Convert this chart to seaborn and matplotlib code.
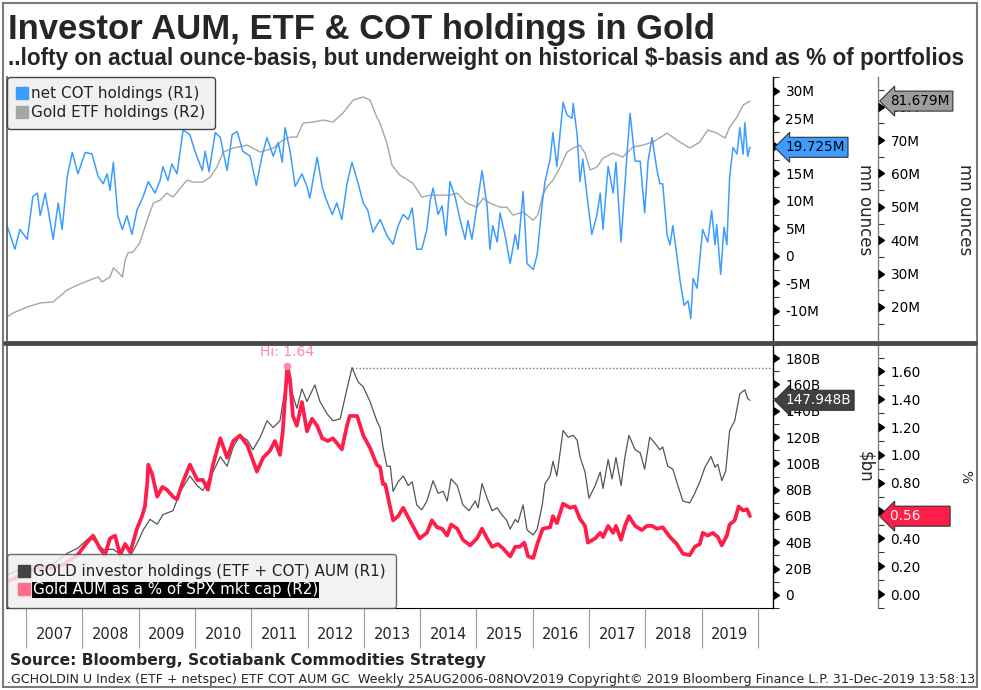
import numpy as np
import pandas as pd
import matplotlib.pyplot as plt
import seaborn as sns
from matplotlib.lines import Line2D
from matplotlib.patches import Rectangle

# ----------------------------------------------------------------------
# Data (decimal years)
# ----------------------------------------------------------------------
# net COT holdings, mn oz (R1, top panel)
cot_dates = [2006.66, 2006.80, 2006.89, 2007.02, 2007.12, 2007.20, 2007.25, 2007.34, 2007.43, 2007.48,
             2007.57, 2007.64, 2007.73, 2007.82, 2007.92, 2008.05, 2008.17, 2008.28, 2008.37, 2008.44,
             2008.49, 2008.55, 2008.63, 2008.71, 2008.79, 2008.88, 2008.97, 2009.08, 2009.17, 2009.29,
             2009.38, 2009.43, 2009.52, 2009.59, 2009.68, 2009.79, 2009.91, 2010.00, 2010.13, 2010.18,
             2010.25, 2010.36, 2010.45, 2010.57, 2010.66, 2010.75, 2010.85, 2010.98, 2011.09, 2011.19,
             2011.28, 2011.39, 2011.48, 2011.55, 2011.60, 2011.69, 2011.78, 2011.90, 2011.99, 2012.04,
             2012.17, 2012.26, 2012.31, 2012.44, 2012.52, 2012.61, 2012.70, 2012.79, 2012.90, 2012.99,
             2013.07, 2013.16, 2013.29, 2013.41, 2013.52, 2013.61, 2013.70, 2013.79, 2013.86, 2013.94,
             2014.03, 2014.12, 2014.18, 2014.23, 2014.32, 2014.39, 2014.46, 2014.53, 2014.62, 2014.71,
             2014.80, 2014.85, 2014.92, 2015.01, 2015.10, 2015.19, 2015.24, 2015.29, 2015.37, 2015.42,
             2015.51, 2015.60, 2015.69, 2015.74, 2015.83, 2015.90, 2016.01, 2016.08, 2016.17, 2016.22,
             2016.31, 2016.36, 2016.43, 2016.54, 2016.61, 2016.70, 2016.72, 2016.79, 2016.84, 2016.89,
             2016.96, 2017.05, 2017.14, 2017.20, 2017.25, 2017.34, 2017.43, 2017.48, 2017.57, 2017.68,
             2017.73, 2017.82, 2017.91, 2017.99, 2018.05, 2018.12, 2018.21, 2018.26, 2018.31, 2018.39,
             2018.44, 2018.49, 2018.56, 2018.62, 2018.69, 2018.76, 2018.81, 2018.85, 2018.92, 2018.97,
             2019.02, 2019.11, 2019.18, 2019.24, 2019.27, 2019.34, 2019.40, 2019.45, 2019.50, 2019.56,
             2019.63, 2019.68, 2019.74, 2019.77, 2019.82, 2019.86]
cot_vals = [5.5, 1.2, 4.8, 3.0, 10.8, 11.4, 7.3, 11.4, 6.0, 3.0,
            9.6, 4.8, 14.4, 18.8, 14.9, 18.8, 18.5, 14.4, 13.1, 14.9,
            11.9, 17.0, 7.3, 4.8, 7.3, 3.9, 8.3, 10.8, 13.5, 11.4,
            13.7, 16.2, 13.7, 16.7, 14.9, 22.9, 22.0, 19.0, 15.5, 19.0,
            15.3, 22.4, 21.5, 15.5, 22.0, 22.6, 19.0, 18.1, 12.8, 18.1,
            21.5, 18.1, 20.6, 17.0, 23.3, 19.0, 12.6, 14.9, 12.6, 10.5,
            17.9, 12.6, 10.8, 7.5, 9.6, 6.6, 13.1, 17.0, 13.1, 9.6,
            8.3, 4.3, 6.6, 3.7, 2.1, 5.5, 7.5, 6.6, 8.7, 1.2,
            1.2, 4.8, 10.1, 12.3, 7.5, 9.1, 3.7, 13.5, 10.8, 6.6,
            3.0, 6.4, 3.0, 9.1, 15.5, 9.1, 1.2, 5.5, 2.5, 7.8,
            3.7, -1.4, 3.9, 1.2, 11.7, -1.4, -2.5, 0.2, 9.6, 13.5,
            17.6, 22.4, 16.2, 27.9, 25.6, 25.0, 27.7, 22.0, 13.5, 17.6,
            11.4, 3.9, 7.3, 11.4, 4.8, 16.3, 11.4, 17.0, 2.5, 19.0,
            25.9, 17.2, 17.2, 7.8, 17.2, 21.5, 15.5, 13.1, 13.1, 3.7,
            2.0, 5.5, 0.2, -4.6, -9.0, -8.2, -11.4, -4.1, -5.9, -0.5,
            4.8, 2.5, 8.2, 2.0, 5.7, -3.4, 5.2, 2.0, 14.4, 19.7,
            18.5, 23.3, 18.5, 24.2, 18.1, 19.725]

# Gold ETF holdings, mn oz (R2, top panel)
etf_dates = [2006.66, 2006.77, 2007.02, 2007.25, 2007.48, 2007.73, 2007.96, 2008.14, 2008.28, 2008.35,
             2008.49, 2008.55, 2008.63, 2008.71, 2008.76, 2008.81, 2008.90, 2009.02, 2009.15, 2009.26,
             2009.38, 2009.50, 2009.61, 2009.74, 2009.86, 2009.97, 2010.14, 2010.27, 2010.39, 2010.50,
             2010.68, 2010.93, 2011.16, 2011.39, 2011.56, 2011.69, 2011.81, 2011.92, 2012.10, 2012.28,
             2012.45, 2012.63, 2012.81, 2012.99, 2013.11, 2013.23, 2013.29, 2013.41, 2013.50, 2013.64,
             2013.87, 2014.03, 2014.18, 2014.35, 2014.53, 2014.66, 2014.83, 2015.01, 2015.12, 2015.24,
             2015.42, 2015.54, 2015.65, 2015.83, 2016.01, 2016.09, 2016.18, 2016.25, 2016.36, 2016.48,
             2016.61, 2016.72, 2016.84, 2016.93, 2017.02, 2017.14, 2017.25, 2017.43, 2017.60, 2017.78,
             2017.96, 2018.14, 2018.39, 2018.56, 2018.79, 2018.97, 2019.11, 2019.27, 2019.42, 2019.50,
             2019.63, 2019.74, 2019.86]
etf_vals = [17.0, 18.2, 20.0, 21.2, 21.5, 25.1, 26.9, 28.1, 29.0, 27.5,
            29.0, 31.7, 30.5, 29.0, 34.1, 36.2, 36.5, 39.2, 46.0, 51.1,
            52.0, 54.1, 52.9, 55.6, 58.0, 57.4, 57.4, 58.9, 61.9, 66.4,
            67.6, 68.5, 66.4, 67.6, 70.0, 70.9, 70.9, 75.1, 75.4, 76.0,
            75.4, 78.1, 82.0, 82.9, 82.0, 76.9, 75.0, 69.0, 62.5, 59.5,
            57.1, 52.9, 53.5, 53.5, 53.5, 54.1, 51.1, 49.9, 52.6, 51.1,
            49.9, 49.9, 47.5, 48.4, 46.0, 47.5, 53.5, 55.9, 58.0, 61.6,
            66.4, 67.6, 68.5, 66.1, 61.0, 61.9, 64.6, 66.1, 64.9, 67.9,
            68.5, 69.4, 72.1, 70.0, 67.6, 69.4, 73.0, 72.1, 70.6, 73.9,
            76.9, 80.5, 81.679]

# GOLD investor holdings (ETF + COT) AUM, $bn (R1, lower panel)
aum_dates = [2006.66, 2006.89, 2007.12, 2007.43, 2007.73, 2007.91, 2008.14, 2008.26, 2008.37, 2008.55,
             2008.67, 2008.85, 2008.97, 2009.08, 2009.20, 2009.33, 2009.43, 2009.61, 2009.74, 2009.91,
             2010.04, 2010.14, 2010.32, 2010.45, 2010.57, 2010.68, 2010.80, 2010.93, 2011.03, 2011.16,
             2011.28, 2011.39, 2011.51, 2011.64, 2011.72, 2011.81, 2011.90, 2011.99, 2012.13, 2012.22,
             2012.35, 2012.45, 2012.58, 2012.70, 2012.79, 2012.90, 2012.99, 2013.11, 2013.23, 2013.29,
             2013.34, 2013.41, 2013.47, 2013.52, 2013.61, 2013.70, 2013.79, 2013.86, 2013.94, 2014.03,
             2014.12, 2014.23, 2014.32, 2014.41, 2014.48, 2014.55, 2014.66, 2014.76, 2014.87, 2014.98,
             2015.03, 2015.10, 2015.19, 2015.28, 2015.37, 2015.45, 2015.54, 2015.60, 2015.69, 2015.74,
             2015.83, 2015.90, 2016.01, 2016.08, 2016.17, 2016.22, 2016.31, 2016.36, 2016.43, 2016.54,
             2016.63, 2016.72, 2016.79, 2016.84, 2016.93, 2017.00, 2017.11, 2017.20, 2017.25, 2017.34,
             2017.41, 2017.48, 2017.57, 2017.64, 2017.71, 2017.82, 2017.91, 2017.99, 2018.08, 2018.17,
             2018.26, 2018.31, 2018.40, 2018.49, 2018.58, 2018.67, 2018.79, 2018.88, 2018.97, 2019.06,
             2019.17, 2019.24, 2019.29, 2019.36, 2019.43, 2019.50, 2019.59, 2019.68, 2019.77, 2019.82,
             2019.86]
aum_vals = [14.7, 19.9, 22.0, 22.0, 31.6, 35.3, 44.1, 39.0, 34.6, 34.6,
            30.9, 29.4, 39.0, 49.3, 57.4, 53.7, 61.0, 64.0, 78.7, 90.4,
            83.1, 79.4, 93.4, 105.1, 97.8, 112.5, 121.3, 117.6, 110.3, 119.9,
            132.4, 127.2, 132.4, 167.0, 154.4, 141.9, 156.6, 147.0, 159.6, 147.0,
            137.5, 132.4, 133.8, 156.6, 172.8, 161.8, 158.1, 147.0, 132.4, 127.0,
            112.5, 97.8, 97.8, 78.7, 86.0, 90.4, 83.1, 86.0, 68.4, 64.7,
            71.3, 86.8, 77.2, 78.7, 71.3, 88.2, 83.1, 68.4, 64.0, 71.3,
            66.2, 84.6, 73.5, 64.0, 66.2, 61.0, 56.6, 50.0, 57.4, 55.1,
            68.4, 49.3, 45.6, 50.0, 68.4, 84.6, 90.4, 101.5, 90.4, 125.0,
            119.9, 121.3, 117.6, 105.1, 93.4, 73.5, 83.1, 93.4, 80.9, 102.9,
            88.2, 104.4, 83.1, 105.1, 121.3, 110.3, 108.0, 95.6, 119.9, 115.4,
            110.3, 112.5, 97.8, 95.6, 83.1, 71.3, 69.9, 77.2, 86.0, 97.0,
            105.1, 97.0, 99.3, 86.8, 94.1, 125.0, 132.4, 153.0, 155.9, 149.3,
            147.948]

# Gold AUM as a % of SPX mkt cap (R2, lower panel)
pct_dates = [2006.66, 2006.84, 2007.02, 2007.20, 2007.43, 2007.66, 2007.91, 2008.08, 2008.19, 2008.31,
             2008.40, 2008.49, 2008.58, 2008.67, 2008.76, 2008.85, 2008.97, 2009.06, 2009.11, 2009.15,
             2009.17, 2009.24, 2009.33, 2009.42, 2009.50, 2009.61, 2009.68, 2009.77, 2009.91, 2010.04,
             2010.14, 2010.23, 2010.32, 2010.45, 2010.57, 2010.68, 2010.80, 2010.93, 2011.03, 2011.10,
             2011.21, 2011.33, 2011.42, 2011.51, 2011.56, 2011.64, 2011.69, 2011.74, 2011.81, 2011.90,
             2011.99, 2012.08, 2012.17, 2012.26, 2012.36, 2012.45, 2012.61, 2012.70, 2012.75, 2012.88,
             2012.99, 2013.11, 2013.23, 2013.29, 2013.34, 2013.38, 2013.47, 2013.52, 2013.61, 2013.70,
             2013.79, 2013.87, 2013.99, 2014.12, 2014.21, 2014.30, 2014.39, 2014.48, 2014.55, 2014.66,
             2014.76, 2014.89, 2015.01, 2015.10, 2015.19, 2015.28, 2015.38, 2015.47, 2015.60, 2015.69,
             2015.77, 2015.85, 2015.92, 2016.01, 2016.09, 2016.18, 2016.31, 2016.36, 2016.43, 2016.54,
             2016.66, 2016.75, 2016.84, 2016.93, 2016.98, 2017.11, 2017.20, 2017.25, 2017.34, 2017.43,
             2017.48, 2017.57, 2017.64, 2017.71, 2017.82, 2017.94, 2018.03, 2018.12, 2018.21, 2018.31,
             2018.44, 2018.56, 2018.67, 2018.79, 2018.88, 2018.97, 2019.02, 2019.11, 2019.20, 2019.29,
             2019.36, 2019.45, 2019.50, 2019.59, 2019.66, 2019.74, 2019.81, 2019.84, 2019.86]
pct_vals = [0.09, 0.12, 0.16, 0.19, 0.19, 0.21, 0.28, 0.37, 0.42, 0.33,
            0.28, 0.40, 0.42, 0.28, 0.36, 0.30, 0.47, 0.56, 0.63, 0.79,
            0.93, 0.86, 0.70, 0.77, 0.75, 0.70, 0.68, 0.79, 0.93, 0.82,
            0.82, 0.75, 0.93, 1.12, 0.98, 1.10, 1.14, 1.07, 0.96, 0.88,
            0.98, 1.03, 1.10, 1.00, 1.17, 1.64, 1.54, 1.28, 1.21, 1.38,
            1.17, 1.26, 1.21, 1.12, 1.10, 1.12, 1.04, 1.21, 1.28, 1.28,
            1.14, 1.05, 0.93, 0.91, 0.79, 0.79, 0.62, 0.53, 0.56, 0.62,
            0.55, 0.49, 0.40, 0.44, 0.53, 0.48, 0.47, 0.42, 0.50, 0.47,
            0.39, 0.35, 0.40, 0.47, 0.40, 0.34, 0.36, 0.33, 0.27, 0.34,
            0.34, 0.37, 0.27, 0.26, 0.37, 0.47, 0.48, 0.56, 0.51, 0.65,
            0.62, 0.63, 0.54, 0.49, 0.37, 0.40, 0.44, 0.41, 0.49, 0.44,
            0.49, 0.39, 0.49, 0.56, 0.49, 0.46, 0.49, 0.49, 0.47, 0.48,
            0.41, 0.36, 0.29, 0.28, 0.34, 0.36, 0.44, 0.42, 0.44, 0.41,
            0.35, 0.42, 0.50, 0.53, 0.63, 0.60, 0.61, 0.58, 0.56]

years = list(range(2007, 2020))

cot_ticks = [-10, -5, 0, 5, 10, 15, 20, 25, 30]
etf_ticks = [20, 30, 40, 50, 60, 70, 80]
aum_ticks = [0, 20, 40, 60, 80, 100, 120, 140, 160, 180]
pct_ticks = [0.0, 0.2, 0.4, 0.6, 0.8, 1.0, 1.2, 1.4, 1.6]

# ----------------------------------------------------------------------
# Style
# ----------------------------------------------------------------------
sns.set_style("white")
plt.rcParams["font.family"] = ["DejaVu Sans"]

BLUE = "#3d9dff"
ETF_GRAY = "#a6a6a6"
AUM_GRAY = "#555555"
RED = "#ff1e4a"
PINK = "#ff8aa2"

W, H = 981, 690
fig = plt.figure(figsize=(W / 100, H / 100), dpi=100)

XL, XR = 7, 773
ax_top = fig.add_axes([XL / W, 1 - 340 / H, (XR - XL) / W, 263 / H])
ax_bot = fig.add_axes([XL / W, 1 - 608 / H, (XR - XL) / W, 263 / H])
ax_top2 = ax_top.twinx()
ax_bot2 = ax_bot.twinx()
SPINE2 = (878 - XL) / (XR - XL)

# blue COT over gray ETF
ax_top.set_zorder(ax_top2.get_zorder() + 1)
ax_top.patch.set_visible(False)

sns.lineplot(x=etf_dates, y=etf_vals, ax=ax_top2, color=ETF_GRAY, lw=1.0)
sns.lineplot(x=cot_dates, y=cot_vals, ax=ax_top, color=BLUE, lw=1.1)
sns.lineplot(x=aum_dates, y=aum_vals, ax=ax_bot, color=AUM_GRAY, lw=0.9)
sns.lineplot(x=pct_dates, y=pct_vals, ax=ax_bot2, color=RED, lw=2.7)

xlim = (2006.66, 2020.27)
for a in (ax_top, ax_top2, ax_bot, ax_bot2):
    a.set_xlim(*xlim)
    a.set_xlabel("")
    a.set_ylabel("")
ax_top.set_ylim(-15.3, 31.4)
ax_top2.set_ylim(10.1, 88.9)
ax_bot.set_ylim(-5.9, 187.5)
ax_bot2.set_ylim(-0.056, 1.79)


def style_axis(ax, ticks, minor_step, fmt, xpos, spine_color):
    ax.yaxis.tick_right()
    ax.set_yticks(ticks)
    ax.set_yticklabels([fmt(t) for t in ticks])
    ax.set_yticks(np.arange(ticks[0] - minor_step, ticks[-1] + 2 * minor_step, minor_step), minor=True)
    ax.tick_params(axis="y", which="major", right=True, length=7, width=0, pad=2,
                   labelsize=9.8, labelcolor="black")
    ax.tick_params(axis="y", which="minor", right=True, length=4, width=0.8, color="#333333")
    ax.tick_params(axis="x", which="both", length=0, labelbottom=False)
    for s in ax.spines.values():
        s.set_visible(False)
    ax.spines["right"].set_visible(True)
    ax.spines["right"].set_position(("axes", xpos))
    ax.spines["right"].set_color(spine_color)
    ax.spines["right"].set_linewidth(1.0)
    # triangle major tick marks
    lo, hi = ax.get_ylim()
    tv = [t for t in ticks if lo <= t <= hi]
    ax.plot([xpos] * len(tv), tv, ls="none", marker=9, ms=6, color="black",
            transform=ax.get_yaxis_transform(), clip_on=False, zorder=5)


style_axis(ax_top, cot_ticks, 2.5, lambda v: "0" if v == 0 else f"{v}M", 1.0, "black")
style_axis(ax_top2, etf_ticks, 5, lambda v: f"{v}M", SPINE2, "#808080")
style_axis(ax_bot, aum_ticks, 10, lambda v: "0" if v == 0 else f"{v}B", 1.0, "black")
style_axis(ax_bot2, pct_ticks, 0.1, lambda v: f"{v:.2f}", SPINE2, "#808080")

for a in (ax_top, ax_bot):
    a.spines["left"].set_visible(True)
    a.spines["left"].set_color("#555555")
    a.spines["left"].set_linewidth(1.2)
ax_bot.spines["bottom"].set_visible(True)
ax_bot.spines["bottom"].set_color("black")

# year strip below lower panel
ax_bot.set_xticks(list(range(years[0], years[-1] + 2)))
ax_bot.set_xticklabels([])
ax_bot.set_xticks([y + 0.5 for y in years], minor=True)
ax_bot.set_xticklabels([str(y) for y in years], minor=True)
ax_bot.tick_params(axis="x", which="major", bottom=True, length=29, width=0.8,
                   color="#999999", direction="out")
ax_bot.tick_params(axis="x", which="minor", bottom=True, length=0, pad=14, labelsize=10.5,
                   labelbottom=True)

# ----------------------------------------------------------------------
# Annotations
# ----------------------------------------------------------------------
i_hi = int(np.argmax(pct_vals))
ax_bot2.plot(pct_dates[i_hi], pct_vals[i_hi], "o", color=PINK, ms=4.5, zorder=6)
ax_bot2.annotate(f"Hi: {pct_vals[i_hi]:.2f}", (pct_dates[i_hi], pct_vals[i_hi]), xytext=(0, 5),
                 textcoords="offset points", ha="center", va="bottom", color=PINK, fontsize=10)
i_lo = int(np.argmin(pct_vals))
ax_bot2.annotate(f"Low: {pct_vals[i_lo]:.2f}", (pct_dates[i_lo], pct_vals[i_lo]), xytext=(8, -4),
                 textcoords="offset points", ha="left", va="top", color=PINK, fontsize=10)

i_top = int(np.argmax(aum_vals))
ax_bot.hlines(aum_vals[i_top], aum_dates[i_top], xlim[1], colors="#777777",
              linestyles=(0, (1, 1.5)), lw=1.0)


def value_tag(ax, xpos, value, text, face, tcolor):
    ax.annotate(text, xy=(xpos, value), xycoords=ax.get_yaxis_transform(),
                xytext=(9, 0), textcoords="offset points", ha="left", va="center",
                fontsize=9.8, color=tcolor, zorder=30, annotation_clip=False,
                bbox=dict(boxstyle="larrow,pad=0.22", fc=face, ec="#333333", lw=0.8))


value_tag(ax_top, 1.0, cot_vals[-1], f"{cot_vals[-1]:.3f}M", BLUE, "black")
value_tag(ax_top2, SPINE2, etf_vals[-1], f"{etf_vals[-1]:.3f}M", "#9e9e9e", "black")
value_tag(ax_bot, 1.0, aum_vals[-1], f"{aum_vals[-1]:.3f}B", "#404040", "white")
value_tag(ax_bot2, SPINE2, pct_vals[-1], f"{pct_vals[-1]:.2f}" + " " * 6, RED, "white")

# legends
top_handles = [Line2D([], [], ls="none", marker="s", ms=8, color=BLUE),
               Line2D([], [], ls="none", marker="s", ms=8, color=ETF_GRAY)]
leg = ax_top.legend(top_handles, ["net COT holdings (R1)", "Gold ETF holdings (R2)"],
                    loc="upper left", bbox_to_anchor=(0.0, 1.0), fontsize=11, frameon=True,
                    fancybox=True, facecolor="#f0f0f0", edgecolor="#444444", framealpha=1,
                    handlelength=0.8, handletextpad=0.2, borderpad=0.6, labelspacing=0.25,
                    borderaxespad=0.0)
leg.get_frame().set_linewidth(1.0)
leg.set_zorder(40)
for t in leg.get_texts():
    t.set_color("#222222")

bot_handles = [Line2D([], [], ls="none", marker="s", ms=9, color="#444444"),
               Line2D([], [], ls="none", marker="s", ms=9, color="#ff7088")]
leg2 = ax_bot2.legend(bot_handles, ["GOLD investor holdings (ETF + COT) AUM (R1)",
                                    "Gold AUM as a % of SPX mkt cap (R2)"],
                      loc="lower left", bbox_to_anchor=(0.0, 0.0), fontsize=10.9, frameon=True,
                      fancybox=True, facecolor="#f0f0f0", edgecolor="#555555", framealpha=0.85,
                      handlelength=0.8, handletextpad=0.2, borderpad=0.7, labelspacing=0.2,
                      borderaxespad=0.0)
leg2.get_frame().set_linewidth(1.0)
leg2.set_zorder(40)
leg2.get_texts()[0].set_color("#222222")
t2 = leg2.get_texts()[1]
t2.set_color("white")
t2.set_bbox(dict(facecolor="black", edgecolor="none", pad=0.5))

# ----------------------------------------------------------------------
# Figure text and frame
# ----------------------------------------------------------------------
def fit_text(txt, target_px):
    # shrink/grow a text so that it spans target_px pixels
    fig.canvas.draw()
    wpx = txt.get_window_extent().width
    txt.set_fontsize(txt.get_fontsize() * target_px / wpx)


narrow = ["Liberation Sans", "DejaVu Sans"]
title = fig.text(8 / W, 1 - 29 / H, "Investor AUM, ETF & COT holdings in Gold", fontsize=26,
                 fontweight="bold", family=narrow, va="center", ha="left")
subtitle = fig.text(8 / W, 1 - 58 / H,
                    "..lofty on actual ounce-basis, but underweight on historical $-basis and as % of portfolios",
                    fontsize=15, fontweight="bold", family=narrow, va="center", ha="left")
source = fig.text(10 / W, 1 - 660 / H, "Source: Bloomberg, Scotiabank Commodities Strategy",
                  fontsize=10.5, fontweight="bold", va="center", ha="left")
footer = fig.text(7 / W, 1 - 680 / H,
                  ".GCHOLDIN U Index (ETF + netspec) ETF COT AUM GC  Weekly 25AUG2006-08NOV2019 "
                  "Copyright\u00a9 2019 Bloomberg Finance L.P. 31-Dec-2019 13:58:13",
                  fontsize=8.4, va="center", ha="left")
fit_text(title, 707)
fit_text(subtitle, 962)
fit_text(source, 480)
fit_text(footer, 966)

fig.text(865 / W, 1 - 210 / H, "mn ounces", rotation=270, fontsize=12, va="center", ha="center")
fig.text(965 / W, 1 - 210 / H, "mn ounces", rotation=270, fontsize=12, va="center", ha="center")
fig.text(865 / W, 1 - 467 / H, "$bn", rotation=270, fontsize=12, va="center", ha="center")
fig.text(965 / W, 1 - 477 / H, "%", rotation=270, fontsize=10, va="center", ha="center")

fig.add_artist(Line2D([5 / W, 975 / W], [1 - 343 / H] * 2, transform=fig.transFigure,
                      lw=3.5, color="#4a4a4a"))
fig.add_artist(Rectangle((3 / W, 3 / H), 974 / W, 684 / H, transform=fig.transFigure,
                         fill=False, ec="#7a7a7a", lw=1.5))

fig.savefig("out.png", dpi=100)
